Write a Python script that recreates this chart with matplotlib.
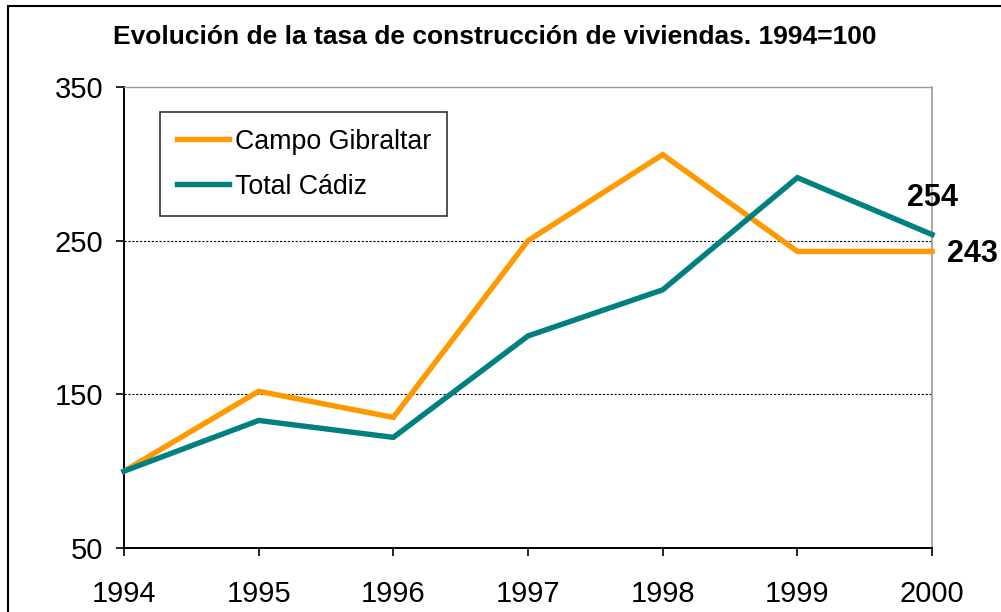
import matplotlib.pyplot as plt
import matplotlib.patches as mpatches

years = [1994, 1995, 1996, 1997, 1998, 1999, 2000]
campo = [100, 152, 135, 250, 306, 243, 243]
cadiz = [100, 133, 122, 188, 218, 291, 254]
yticks = [50, 150, 250, 350]

plt.rcParams['font.family'] = ['Liberation Sans', 'DejaVu Sans']

fig = plt.figure(figsize=(10.01, 6.12), dpi=100)
ax = fig.add_axes([124 / 1001, 64 / 612, 808 / 1001, 461 / 612])

# outer frame (cut by the image edge on the right and bottom)
fig.patches.append(mpatches.Rectangle((8 / 1001, -0.05), 1.2, 0.05 + 606 / 612,
                                      transform=fig.transFigure, fill=False,
                                      edgecolor='black', linewidth=1.5))

ax.plot(years, campo, color='#FF9900', lw=3.9, label='Campo Gibraltar',
        solid_joinstyle='miter', clip_on=False, zorder=3)
ax.plot(years, cadiz, color='#008080', lw=3.9, label='Total Cádiz',
        solid_joinstyle='miter', clip_on=False, zorder=4)

ax.set_xlim(years[0], years[-1])
ax.set_ylim(50, 350)
ax.set_xticks(years)
ax.set_yticks(yticks)
ax.tick_params(direction='out', length=6, width=1.2, labelsize=21)
ax.tick_params(axis='x', pad=17)
ax.tick_params(axis='y', pad=9)

for v in [150, 250]:
    ax.axhline(v, color='black', lw=0.8, ls=(0, (2, 1.5)), zorder=1)

ax.spines['left'].set_linewidth(1.4)
ax.spines['bottom'].set_linewidth(1.4)
ax.spines['top'].set_color('#999999')
ax.spines['top'].set_linestyle((0, (2, 1)))
ax.spines['top'].set_linewidth(1)
ax.spines['right'].set_color('#999999')
ax.spines['right'].set_linewidth(1.2)

ax.annotate(str(cadiz[-1]), (years[-1], cadiz[-1]), xytext=(0, 26),
            textcoords='offset points', ha='center', va='center',
            fontsize=22, fontweight='bold', annotation_clip=False)
ax.annotate(str(campo[-1]), (years[-1], campo[-1]), xytext=(11, -2),
            textcoords='offset points', ha='left', va='center',
            fontsize=22, fontweight='bold', annotation_clip=False)

leg = ax.legend(loc='upper left', bbox_to_anchor=(0.045, 0.946), fontsize=19.3,
                frameon=True, fancybox=False, edgecolor='black',
                handlelength=1.95, handletextpad=0.2, borderpad=0.62,
                borderaxespad=0, labelspacing=0.72)
leg.get_frame().set_linewidth(1.2)

fig.text(495 / 1001, 1 - 37 / 612,
         'Evolución de la tasa de construcción de viviendas. 1994=100',
         ha='center', va='center', fontsize=19, fontweight='bold')

fig.savefig('out.png', dpi=100)
